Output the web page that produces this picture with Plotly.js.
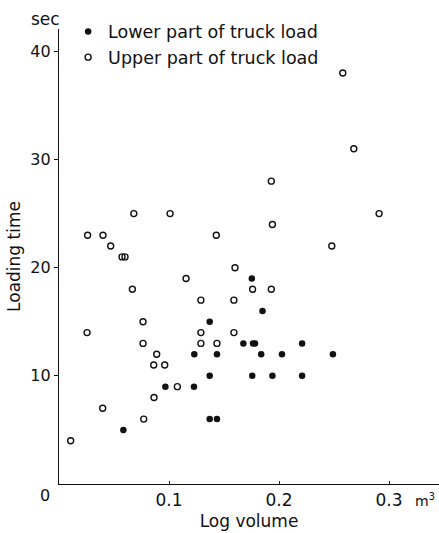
<!DOCTYPE html>
<html>
<head>
<meta charset="utf-8">
<script src="https://cdn.plot.ly/plotly-3.0.1.min.js"></script>
<style>
html,body{margin:0;padding:0;background:#fff;}
#chart{width:439px;height:533px;}
</style>
</head>
<body>
<div id="chart"></div>
<script>
// Lower part of truck load (filled circles)
var lowerX = [0.0585, 0.0967, 0.1227, 0.123, 0.137, 0.137, 0.137, 0.1436, 0.1436, 0.1676, 0.1753, 0.1764, 0.1782, 0.1757, 0.185, 0.1838, 0.2027, 0.194, 0.221, 0.221, 0.249];
var lowerY = [5, 9, 9, 12, 15, 10, 6, 6, 12, 13, 19, 13, 13, 10, 16, 12, 12, 10, 13, 10, 12];

// Upper part of truck load (open circles)
var upperX = [0.0106, 0.0255, 0.026, 0.0397, 0.040, 0.047, 0.0573, 0.060, 0.0667, 0.068, 0.0764, 0.0764, 0.077, 0.0864, 0.0861, 0.0888, 0.0961, 0.101, 0.1076, 0.1155, 0.129, 0.129, 0.129, 0.143, 0.1436, 0.159, 0.159, 0.160, 0.176, 0.193, 0.193, 0.194, 0.248, 0.258, 0.268, 0.291];
var upperY = [4, 14, 23, 7, 23, 22, 21, 21, 18, 25, 15, 13, 6, 8, 11, 12, 11, 25, 9, 19, 17, 14, 13, 23, 13, 17, 14, 20, 18, 18, 28, 24, 22, 38, 31, 25];

var seriesNames = ["Lower part of truck load", "Upper part of truck load"];
var xTickVals = [0.1, 0.2, 0.3];
var xTickText = ["0.1", "0.2", "0.3"];
var yTickVals = [10, 20, 30, 40];
var yTickText = ["10", "20", "30", "40"];
var originLabel = "0";
var yUnit = "sec";
var xUnit = "m<sup>3</sup>";
var xTitle = "Log volume";
var yTitle = "Loading time";

var FONT = "DejaVu Sans, sans-serif";
var INK = "#111111";

var traces = [
  {
    x: lowerX, y: lowerY, type: "scatter", mode: "markers", name: seriesNames[0],
    marker: {symbol: "circle", size: 6.5, color: INK, line: {width: 0}}
  },
  {
    x: upperX, y: upperY, type: "scatter", mode: "markers", name: seriesNames[1],
    marker: {symbol: "circle-open", size: 6, color: INK, line: {width: 1.4, color: INK}}
  }
];

var layout = {
  width: 439, height: 533,
  margin: {l: 59, r: 0, t: 29.3, b: 48.7, pad: 0},
  paper_bgcolor: "#ffffff",
  plot_bgcolor: "#ffffff",
  font: {family: FONT, color: INK, size: 16},
  showlegend: true,
  legend: {
    x: 0.024, y: 1.034, xanchor: "left", yanchor: "top",
    bgcolor: "rgba(0,0,0,0)", borderwidth: 0,
    font: {family: FONT, size: 17.5, color: INK},
    itemwidth: 30, tracegroupgap: 0
  },
  xaxis: {
    range: [0, 0.34545], autorange: false,
    showgrid: false, zeroline: false,
    showline: true, linecolor: INK, linewidth: 1.3,
    ticks: "inside", ticklen: 3, tickwidth: 1, tickcolor: INK,
    tickmode: "array", tickvals: xTickVals, ticktext: xTickText,
    tickfont: {family: FONT, size: 17, color: INK},
    title: {text: xTitle, font: {family: FONT, size: 17, color: INK}, standoff: 6},
    fixedrange: true
  },
  yaxis: {
    range: [0, 42.07], autorange: false,
    showgrid: false, zeroline: false,
    showline: true, linecolor: INK, linewidth: 1.2,
    ticks: "outside", ticklen: 4, tickwidth: 1, tickcolor: INK,
    tickmode: "array", tickvals: yTickVals, ticktext: yTickText,
    tickfont: {family: FONT, size: 16, color: INK},
    title: {text: yTitle, font: {family: FONT, size: 17, color: INK}, standoff: 5},
    fixedrange: true
  },
  annotations: [
    {text: yUnit, xref: "paper", yref: "paper", x: 0, y: 1, xanchor: "center", yanchor: "middle",
     xshift: -14, yshift: 10, showarrow: false, font: {family: FONT, size: 17, color: INK}},
    {text: originLabel, xref: "paper", yref: "paper", x: 0, y: 0, xanchor: "center", yanchor: "middle",
     xshift: -14, yshift: -11, showarrow: false, font: {family: FONT, size: 16, color: INK}},
    {text: xUnit, xref: "paper", yref: "paper", x: 1, y: 0, xanchor: "right", yanchor: "middle",
     xshift: -2, yshift: -16, showarrow: false, font: {family: FONT, size: 14, color: INK}}
  ]
};

Plotly.newPlot("chart", traces, layout, {displayModeBar: false, staticPlot: true});
</script>
</body>
</html>
